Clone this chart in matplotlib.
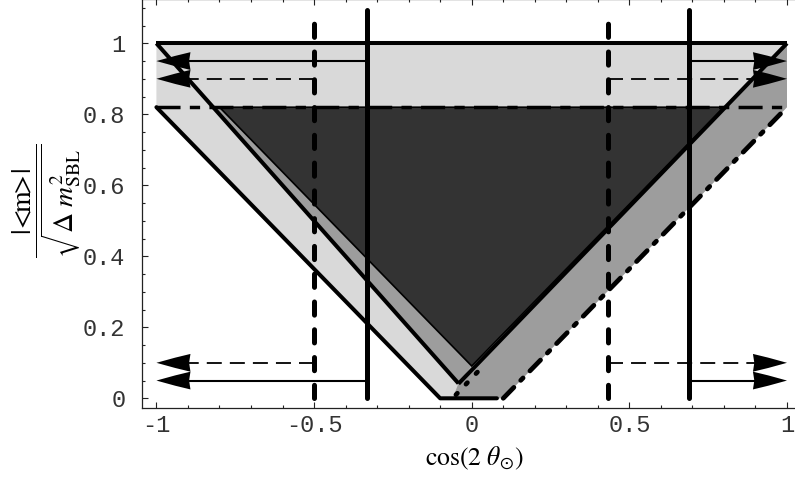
import matplotlib
matplotlib.use('Agg')
import matplotlib.pyplot as plt
from matplotlib.patches import Polygon
from matplotlib.ticker import MultipleLocator

plt.rcParams['mathtext.fontset'] = 'stix'
plt.rcParams['lines.scale_dashes'] = False
plt.rcParams['axes.unicode_minus'] = False

# ---------------- data ----------------
x_ticks = [-1, -0.5, 0, 0.5, 1]
x_ticklabels = ['-1', '-0.5', '0', '0.5', '1']
y_ticks = [0, 0.2, 0.4, 0.6, 0.8, 1]
y_ticklabels = ['0', '0.2', '0.4', '0.6', '0.8', '1']

top_solid = 1.0          # upper bound (solid)
top_dashed = 0.82        # upper bound (dashed)
# outer lower boundary: left solid arm, flat bottom, right dash-dot arm
outer_left_x = [-1.0, -0.1, 0.08]
outer_left_y = [0.82, 0.0, 0.0]
outer_right_x = [0.1, 1.0]
outer_right_y = [0.0, 0.82]
# inner V (solid lines)
line_a_x = [-1.0, -0.042]
line_a_y = [1.0, 0.042]
line_b_x = [-0.042, 1.0]
line_b_y = [0.041, 1.0]
# dark triangle
dark_x = [-0.80, 0.80, 0.0]
dark_y = [0.82, 0.82, 0.091]
# short dashed piece near the vertex
blob_x = [-0.05, 0.03]
blob_y = [0.01, 0.085]
# vertical bounds
vert_solid = [-0.331, 0.689]
vert_dashed = [-0.5, 0.431]
vert_top = 1.095
# arrows
arrow_solid_y = [0.95, 0.05]
arrow_dashed_y = [0.9, 0.1]

LIGHT = '#d9d9d9'
MED = '#9d9d9d'
DARK = '#333333'

fig = plt.figure(figsize=(7.95, 4.79), dpi=100)
ax = fig.add_axes([142 / 795, 71 / 479, 659 / 795, 409 / 479])
ax.set_xlim(-1.0457, 1.0444)
ax.set_ylim(-0.0273, 1.1248)

# ---------------- regions ----------------
light_poly = [(outer_left_x[0], top_solid), (outer_right_x[-1], top_solid),
              (outer_right_x[-1], outer_right_y[-1]), (outer_right_x[0], outer_right_y[0]),
              (outer_left_x[1], outer_left_y[1]), (outer_left_x[0], outer_left_y[0])]
ax.add_patch(Polygon(light_poly, closed=True, facecolor=LIGHT, edgecolor='none', zorder=1))

vx, vy = line_a_x[-1], line_a_y[-1]
med_left = [(-top_dashed, top_dashed), (dark_x[0], dark_y[0]), (dark_x[2], dark_y[2]), (vx, vy)]
med_right = [(line_b_x[-1], line_b_y[-1]), (outer_right_x[-1], outer_right_y[-1]),
             (outer_right_x[0], outer_right_y[0]), (-0.06, 0.0), (vx, vy)]
for pts in (med_left, med_right):
    ax.add_patch(Polygon(pts, closed=True, facecolor=MED, edgecolor='none', zorder=2))

ax.add_patch(Polygon(list(zip(dark_x, dark_y)), closed=True, facecolor=DARK,
                     edgecolor='black', linewidth=1.2, zorder=3))

# ---------------- boundary lines ----------------
ax.plot([-1, 1], [top_solid, top_solid], color='black', lw=2.9,
        solid_capstyle='butt', zorder=5)
ax.plot([-1, 1], [top_dashed, top_dashed], color='black', lw=2.5,
        linestyle=(0, (17.3, 6.7, 7.4, 6.7)), dash_capstyle='butt', zorder=5)
ax.plot(outer_left_x, outer_left_y, color='black', lw=2.9,
        solid_capstyle='round', solid_joinstyle='round', zorder=5)
ax.plot(outer_right_x, outer_right_y, color='black', lw=3.4,
        linestyle=(0, (11, 7, 2.5, 7)), dash_capstyle='round', zorder=5)
ax.plot(line_a_x, line_a_y, color='black', lw=2.9, solid_capstyle='butt', zorder=5)
ax.plot(line_b_x, line_b_y, color='black', lw=2.9, solid_capstyle='butt', zorder=5)
ax.plot(blob_x, blob_y, color='black', lw=3.4, linestyle=(0, (1.5, 9)),
        dash_capstyle='round', zorder=5)

# ---------------- vertical lines ----------------
for xv in vert_solid:
    ax.plot([xv, xv], [0, vert_top], color='black', lw=3.6,
            solid_capstyle='round', zorder=6)
for xv in vert_dashed:
    ax.plot([xv, xv], [0, vert_top], color='black', lw=3.6,
            linestyle=(0, (9.5, 10.5)), dash_capstyle='round', zorder=6)

# ---------------- arrows ----------------
HL = 0.108   # head length (x units)
HW = 0.025   # head half width (y units)


def head(tip, y, s):
    # s = +1 : head extends to the right of the tip (left-pointing arrow)
    return [(tip, y), (tip + s * 0.55 * HL, y + 0.58 * HW), (tip + s * HL, y + HW),
            (tip + s * 0.96 * HL, y), (tip + s * HL, y - HW),
            (tip + s * 0.55 * HL, y - 0.58 * HW)]


for y in arrow_solid_y:
    ax.plot([vert_solid[0], -1 + HL * 0.9], [y, y], color='black', lw=1.5, zorder=7)
    ax.plot([vert_solid[1], 1 - HL * 0.9], [y, y], color='black', lw=1.5, zorder=7)
    ax.add_patch(Polygon(head(-1, y, 1), closed=True, facecolor='black', edgecolor='none', zorder=8))
    ax.add_patch(Polygon(head(1, y, -1), closed=True, facecolor='black', edgecolor='none', zorder=8))
for y in arrow_dashed_y:
    ax.plot([vert_dashed[0], -1 + HL * 0.9], [y, y], color='black', lw=1.3,
            linestyle=(0, (10.8, 5.8)), zorder=7)
    ax.plot([vert_dashed[1], 1 - HL * 0.9], [y, y], color='black', lw=1.3,
            linestyle=(0, (10.8, 5.8)), zorder=7)
    ax.add_patch(Polygon(head(-1, y, 1), closed=True, facecolor='black', edgecolor='none', zorder=8))
    ax.add_patch(Polygon(head(1, y, -1), closed=True, facecolor='black', edgecolor='none', zorder=8))

# ---------------- axes styling ----------------
ax.set_xticks(x_ticks)
ax.set_xticklabels(x_ticklabels)
ax.set_yticks(y_ticks)
ax.set_yticklabels(y_ticklabels)
ax.xaxis.set_minor_locator(MultipleLocator(0.1))
ax.yaxis.set_minor_locator(MultipleLocator(0.05))
ax.tick_params(which='both', direction='in', top=True, right=True, color='#222222', width=0.8)
ax.tick_params(which='major', length=4)
ax.tick_params(which='minor', length=2.5)
ax.tick_params(axis='x', pad=4)
ax.tick_params(axis='y', pad=12)
for lab in ax.get_xticklabels() + ax.get_yticklabels():
    lab.set_family('Liberation Mono')
    lab.set_fontsize(17)
    lab.set_color('#333333')
for sp in ax.spines.values():
    sp.set_linewidth(0.9)
    sp.set_color('#222222')

fig.text(474 / 795, 1 - 458 / 479, r'$\mathrm{cos(2}\ \theta_{\odot})$',
         fontsize=18.5, ha='center', va='center')
fig.text(47 / 795, 1 - 201 / 479,
         r'$\dfrac{|\!\mathrm{<}\!\!\mathrm{m}\!\!\mathrm{>}\!|}{\sqrt{\Delta\ m_{\mathrm{SBL}}^{2}}}$',
         fontsize=20, ha='center', va='center', rotation=90)

fig.savefig('out.png', dpi=100)
